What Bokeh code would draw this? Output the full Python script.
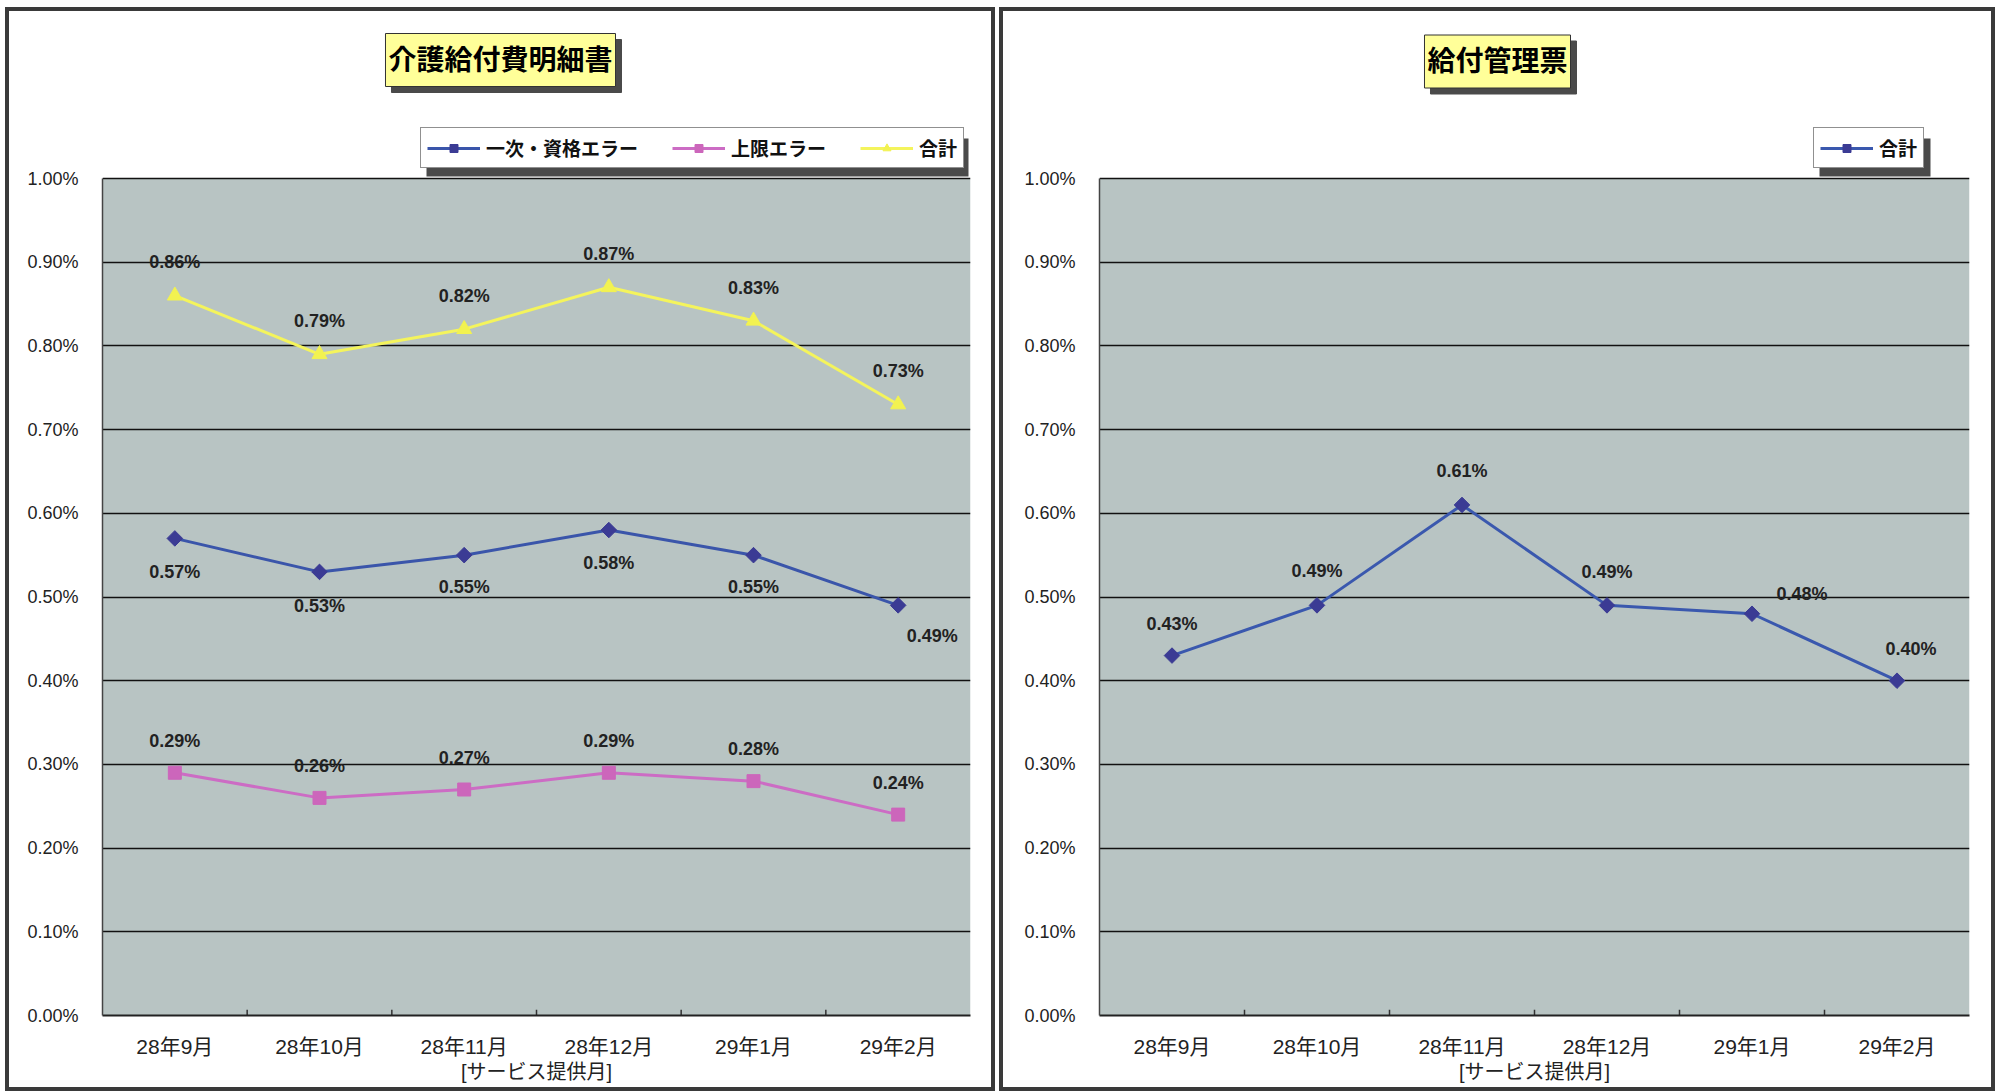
from bokeh.plotting import figure
from bokeh.models import (ColumnDataSource, LabelSet, Label, BoxAnnotation,
                          FixedTicker, PrintfTickFormatter, Range1d, Spacer)
from bokeh.transform import dodge
from bokeh.layouts import row, column
from bokeh.core.properties import value
from bokeh.embed import file_html
from bokeh.resources import INLINE

# ---------------- data ----------------
months = ["28年9月", "28年10月", "28年11月", "28年12月", "29年1月", "29年2月"]
meisai_title = "介護給付費明細書"
kanri_title = "給付管理票"
x_title = "[サービス提供月]"
name_shikaku = "一次・資格エラー"
name_jougen = "上限エラー"
name_total = "合計"
shikaku_err = [0.57, 0.53, 0.55, 0.58, 0.55, 0.49]
jougen_err = [0.29, 0.26, 0.27, 0.29, 0.28, 0.24]
meisai_total = [0.86, 0.79, 0.82, 0.87, 0.83, 0.73]
kanri_total = [0.43, 0.49, 0.61, 0.49, 0.48, 0.40]
y_ticks = [0.0, 0.1, 0.2, 0.3, 0.4, 0.5, 0.6, 0.7, 0.8, 0.9, 1.0]
y_max = 1.0

# label offsets (screen px, styling only)
shikaku_dx = [0, 0, 0, 0, 0, 34]
shikaku_dy = [-34, -34, -32, -33, -32, -31]
jougen_dx = [0, 0, 0, 0, 0, 0]
jougen_dy = [32, 32, 32, 32, 32, 32]
total_dx = [0, 0, 0, 0, 0, 0]
total_dy = [34, 33, 33, 33, 33, 33]
kanri_dx = [0, 0, 0, 0, 50, 14]
kanri_dy = [32, 34, 34, 33, 20, 32]

# ---------------- style / geometry ----------------
FONT = "Liberation Sans, Noto Sans CJK JP"
BG = "#b8c4c3"
SHADOW = "#4a4a4a"
BORDER = 4
OFF_X, OFF_Y = 5, 7          # panel offset on the page
H = 1084
CANVAS_TOP = OFF_Y + BORDER
MBT = 2
FRAME_TOP_PAGE = CANVAS_TOP + MBT
FRAME_BOTTOM_PAGE = 1015
MBB = H - (FRAME_BOTTOM_PAGE - CANVAS_TOP)
FRAME_H = H - MBT - MBB
PLOT_PX = FRAME_BOTTOM_PAGE - 178   # pixel height of the 0..1.00% plotting area
LEG_H = 38


def sy(page_y):
    """frame-relative (bottom-up) screen y from a page y"""
    return FRAME_H - (page_y - FRAME_TOP_PAGE)


def make_panel(width, mbl, mbr, title, title_x, title_page_y, legend_x, legend_w):
    p = figure(x_range=months, y_range=Range1d(0, y_max * FRAME_H / PLOT_PX),
               width=width, height=H,
               output_backend="svg", toolbar_location=None,
               min_border_left=mbl, min_border_right=mbr,
               min_border_top=MBT, min_border_bottom=MBB,
               background_fill_color="white", border_fill_color="white",
               outline_line_color=None,
               styles={"border": "%dpx solid #3a3a3a" % BORDER})

    # gray plotting area 0 .. 1.00%
    p.add_layout(BoxAnnotation(bottom=0, top=y_max, fill_color=BG, fill_alpha=1,
                               line_color=None, level="image"))

    # title with shadow
    ty = sy(title_page_y)
    for dx, dy, tc, bg, bc in [(6, -6, SHADOW, SHADOW, SHADOW),
                               (0, 0, "black", "#ffff99", "#333333")]:
        p.add_layout(Label(x=title_x + dx, y=ty + dy, x_units="screen", y_units="screen",
                           text=title, text_align="center", text_baseline="middle",
                           text_font=FONT, text_font_size="28px", text_font_style="bold",
                           text_line_height=1.0,
                           text_color=tc, background_fill_color=bg,
                           border_line_color=bc, border_line_width=1, padding=(3, 11)))

    # legend shadow
    ltop = sy(130)
    p.add_layout(BoxAnnotation(left=legend_x + 6, right=legend_x + legend_w + 6,
                               top=ltop - 8, bottom=ltop - LEG_H - 8,
                               left_units="screen", right_units="screen",
                               top_units="screen", bottom_units="screen",
                               fill_color=SHADOW, fill_alpha=1, line_color=None))

    # axes
    p.yaxis.ticker = FixedTicker(ticks=y_ticks)
    p.yaxis.bounds = (0, y_max)
    p.yaxis.formatter = PrintfTickFormatter(format="%.2f%%")
    p.yaxis.major_tick_line_color = None
    p.yaxis.minor_tick_line_color = None
    p.yaxis.major_label_standoff = 18
    p.yaxis.major_label_text_font = FONT
    p.yaxis.major_label_text_font_size = "18px"
    p.yaxis.major_label_text_color = "#222222"
    p.yaxis.axis_line_color = "#444444"
    p.yaxis.axis_line_width = 1.5

    p.xaxis.major_tick_line_color = None
    p.xaxis.major_label_standoff = 13
    p.xaxis.major_label_text_font = FONT
    p.xaxis.major_label_text_font_size = "21px"
    p.xaxis.major_label_text_color = "#222222"
    p.xaxis.axis_label = x_title
    p.xaxis.axis_label_standoff = 0
    p.xaxis.axis_label_text_font = FONT
    p.xaxis.axis_label_text_font_size = "20px"
    p.xaxis.axis_label_text_font_style = "normal"
    p.xaxis.axis_label_text_color = "#222222"
    p.xaxis.axis_line_color = "#222222"
    p.xaxis.axis_line_width = 2

    p.xgrid.grid_line_color = None
    p.ygrid.ticker = FixedTicker(ticks=y_ticks)
    p.ygrid.grid_line_color = "#111111"
    p.ygrid.grid_line_width = 1.3

    # boundary tick marks between categories
    tsrc = ColumnDataSource(dict(cat=months[1:]))
    p.segment(x0=dodge("cat", -0.5, range=p.x_range), y0=0,
              x1=dodge("cat", -0.5, range=p.x_range), y1=0.007,
              source=tsrc, line_color="#333333", line_width=1.5)
    return p


def add_series(p, vals, dx, dy, name, line_color, marker, msize, mfill, mangle=0.0):
    src = ColumnDataSource(dict(cat=months, val=vals,
                                lbl=["%.2f%%" % v for v in vals], dx=dx, dy=dy))
    p.line(x="cat", y="val", source=src, line_color=line_color, line_width=3,
           legend_label=name)
    p.scatter(x="cat", y="val", source=src, marker=marker, size=msize, angle=mangle,
              fill_color=mfill, line_color=mfill, legend_label=name)
    return src


def add_labels(p, src):
    p.add_layout(LabelSet(x="cat", y="val", text="lbl", x_offset="dx", y_offset="dy",
                          source=src, text_align="center", text_baseline="middle",
                          text_font=value("Liberation Sans"), text_font_size="18px",
                          text_font_style="bold", text_color="#222222"))


def style_legend(p, x, spacing):
    leg = p.legend[0]
    leg.location = (x, sy(130 + LEG_H))   # bottom-left corner
    leg.orientation = "horizontal"
    leg.glyph_width = 53
    leg.glyph_height = 20
    leg.label_standoff = 6
    leg.spacing = spacing
    leg.padding = 6
    leg.margin = 0
    leg.border_line_color = "#222222"
    leg.border_line_width = 1.5
    leg.background_fill_color = "white"
    leg.background_fill_alpha = 1
    leg.label_text_font = FONT
    leg.label_text_font_size = "19px"
    leg.label_text_font_style = "bold"
    leg.label_text_color = "#111111"


# ---------------- left panel ----------------
# host 5..995, canvas origin x 9; frame 102..970
p1 = make_panel(990, 93, 29, meisai_title, 398, 59.5, 318, 542)
s1 = add_series(p1, shikaku_err, shikaku_dx, shikaku_dy, name_shikaku,
                "#3a55aa", "square", 11, "#3b3b94", 0.785)
s2 = add_series(p1, jougen_err, jougen_dx, jougen_dy, name_jougen,
                "#cc6cc4", "square", 13, "#cc66bb")
s3 = add_series(p1, meisai_total, total_dx, total_dy, name_total,
                "#f4f45c", "triangle", 15, "#f2f250")
for s in (s1, s2, s3):
    add_labels(p1, s)
style_legend(p1, 318, 34)

# ---------------- right panel ----------------
# host 999..1995, canvas origin x 1003; frame 1099..1969
p2 = make_panel(996, 96, 30, kanri_title, 398, 61, 714, 111)
s4 = add_series(p2, kanri_total, kanri_dx, kanri_dy, name_total,
                "#3a58ae", "square", 11, "#3b3b94", 0.785)
add_labels(p2, s4)
style_legend(p2, 714, 20)

layout = column(Spacer(height=OFF_Y),
                row(Spacer(width=OFF_X), p1, Spacer(width=4), p2))
open("out.html", "w").write(file_html(layout, INLINE))
